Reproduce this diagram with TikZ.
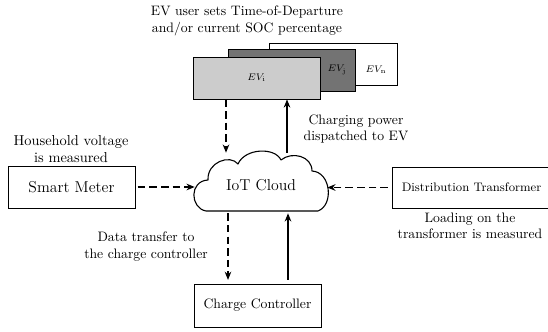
\documentclass[tikz,border=0pt]{standalone}
\usetikzlibrary{arrows.meta}
\newcommand\px{0.73pt}
\newcommand\boxwidth{127}
\newcommand\boxheight{42}

\tikzset{
	box/.style = {draw, line width = 0.6pt, inner sep = 0pt, minimum width = \boxwidth*\px, minimum height = \boxheight*\px},
	note/.style = {align = center, inner sep = 0pt},
	datenpfeil/.style = {-{Stealth[length = 6pt, width = 4.8pt]}, line width = 0.85pt, dash pattern = on 5.5pt off 3pt},
	strompfeil/.style = {-{Stealth[length = 6pt, width = 4.8pt]}, line width = 0.85pt}
}

\begin{document}
\begin{tikzpicture}[x = \px, y = \px, yscale = -1]
	\useasboundingbox (0, 0) rectangle (548, 332);

	% Fahrzeuge:
	\node [box, minimum width = 128*\px, fill = white] (evn) at (333, 64) {};
	\node [box, fill = black!55] (evj) at (291.5, 70.5) {};
	\node [box, fill = black!20, font = \scriptsize] (evi) at (256.5, 78) {$EV_\mathrm{i}$};
	\node [font = \scriptsize] (evjtext) at (337, 70) {$EV_\mathrm{j}$};
	\node [font = \scriptsize] (evntext) at (376, 70) {$EV_\mathrm{n}$};

	% Wolke:
	\node [anchor = base, inner sep = 0pt, text height = 38*\px, text depth = 22*\px, minimum width = 132*\px, font = \fontsize{11.5}{13}\selectfont] (cloud) at (261, 191) {IoT Cloud};
	\draw [line width = 0.8pt, line join = round]
		(206, 211) .. controls (190, 208) and (189, 181) .. (208, 180)
		.. controls (207, 162) and (230, 154) .. (238, 164)
		.. controls (245, 148) and (275, 147) .. (281, 160)
		.. controls (292, 151) and (312, 156) .. (312, 171)
		.. controls (331, 172) and (334, 205) .. (318, 211)
		-- cycle;

	% Geraete:
	\node [box, outer sep = 2pt, font = \fontsize{11.5}{13}\selectfont] (meter) at (71.5, 187) {Smart Meter};
	\node [box, outer sep = 3pt, minimum width = 159*\px, minimum height = 41*\px, font = \small] (trafo) at (471.5, 187.5) {Distribution Transformer};
	\node [box, outer sep = 3pt, minimum height = 43*\px] (regler) at (257.5, 305.5) {Charge Controller};

	% Hinweise
	\node [note] (evnote) at (247, 21) {EV user sets Time-of-Departure\\and/or current SOC percentage};
	\node [note] (powernote) at (356, 129) {Charging power\\dispatched to EV};
	\node [note, font = \fontsize{10.5}{12}\selectfont] (meternote) at (71, 149) {Household voltage\\is measured};
	\node [note] (trafonote) at (470, 226) {Loading on the\\transformer is measured};
	\node [note] (datanote) at (146, 246.5) {Data transfer to\\the charge controller};

	% Pfeile:
	\draw [datenpfeil] ([xshift = -30.5*\px] evi.south) -- ([xshift = -30.5*\px] evi.south |- cloud.north);
	\draw [strompfeil] ([xshift = 30.5*\px] evi.south |- cloud.north) -- ([xshift = 30.5*\px] evi.south);
	\draw [datenpfeil] (meter) -- (meter -| cloud.west);
	\draw [datenpfeil] (trafo) -- (trafo -| cloud.east);
	\draw [datenpfeil] ([xshift = -29.5*\px] regler.north |- cloud.south) -- ([xshift = -29.5*\px] regler.north);
	\draw [strompfeil] ([xshift = 30.5*\px] regler.north) -- ([xshift = 30.5*\px] regler.north |- cloud.south);
\end{tikzpicture}
\end{document}
